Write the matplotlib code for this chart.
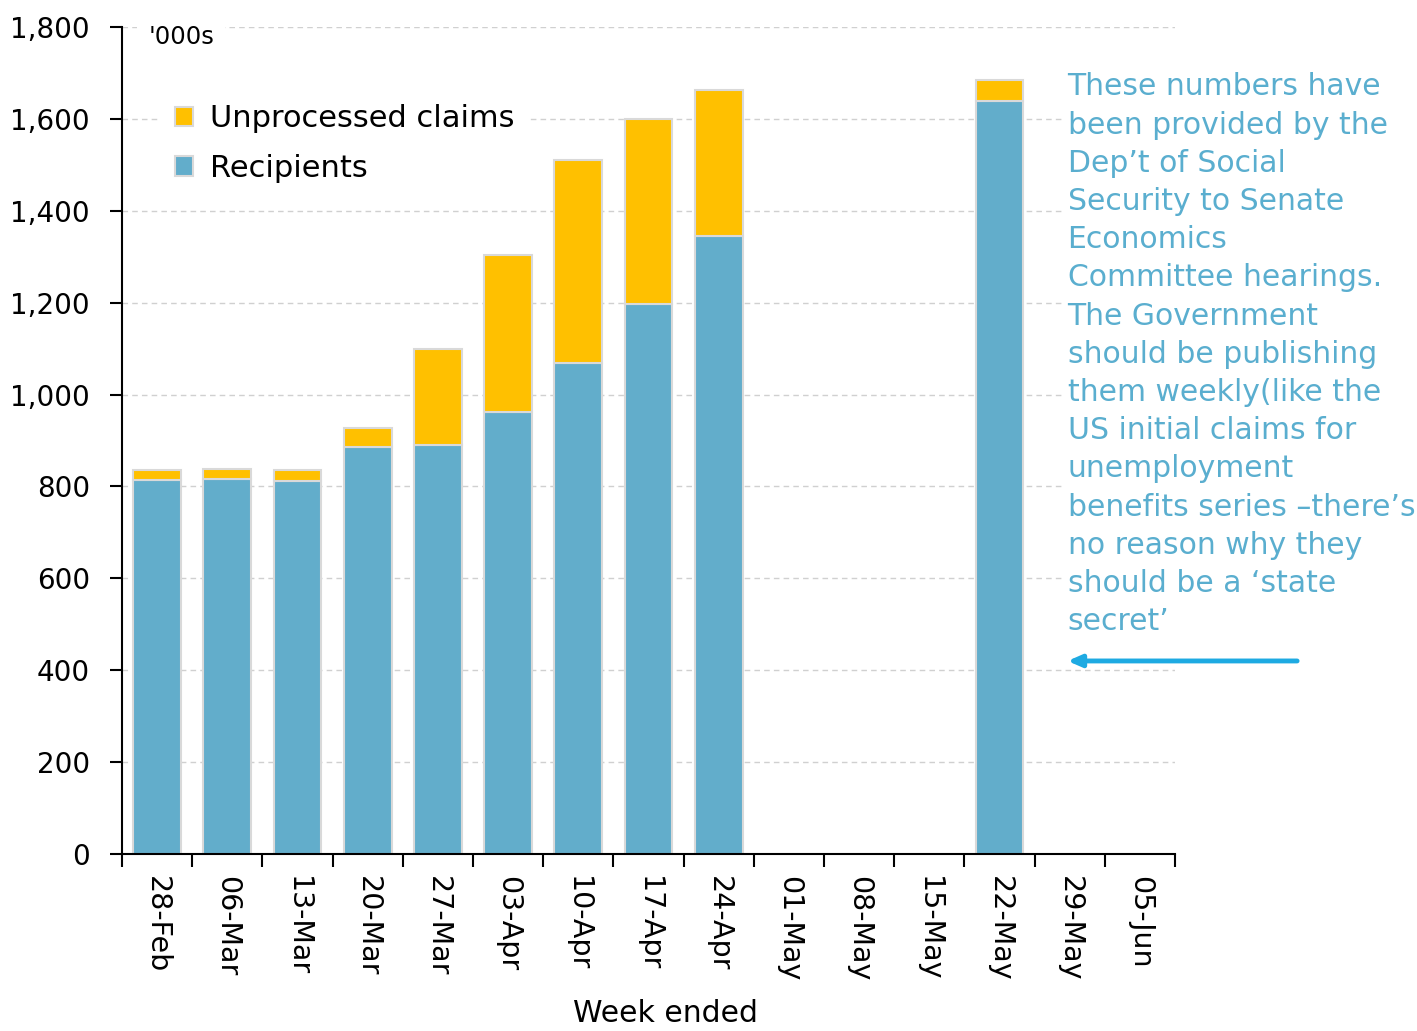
import numpy as np
import matplotlib
matplotlib.use("Agg")
import matplotlib.pyplot as plt

# week-ended labels
weeks = ["28-Feb", "06-Mar", "13-Mar", "20-Mar", "27-Mar", "03-Apr", "10-Apr",
         "17-Apr", "24-Apr", "01-May", "08-May", "15-May", "22-May", "29-May", "05-Jun"]
# '000s; nan = no figure published
recipients = [815, 816, 812, 886, 890, 962, 1069, 1197, 1345,
              np.nan, np.nan, np.nan, 1640, np.nan, np.nan]
unprocessed = [21, 22, 24, 41, 209, 342, 442, 403, 318,
               np.nan, np.nan, np.nan, 45, np.nan, np.nan]

note = ("These numbers have\nbeen provided by the\nDep\u2019t of Social\n"
        "Security to Senate\nEconomics\nCommittee hearings.\nThe Government\n"
        "should be publishing\nthem weekly(like the\nUS initial claims for\n"
        "unemployment\nbenefits series \u2013there\u2019s\nno reason why they\n"
        "should be a \u2018state\nsecret\u2019")

blue = "#62adcb"
yellow = "#ffc000"
edge = "#d9d9d9"

plt.rcParams["font.family"] = ["DejaVu Sans"]

fig = plt.figure(figsize=(14.17, 10.31), dpi=100)
ax = fig.add_axes([0.0861, 0.1717, 0.7431, 0.8021])

x = np.arange(len(weeks))
ax.bar(x, recipients, width=0.68, color=blue, edgecolor=edge, linewidth=1.5,
       label="Recipients", zorder=3)
ax.bar(x, unprocessed, width=0.68, bottom=recipients, color=yellow, edgecolor=edge,
       linewidth=1.5, label="Unprocessed claims", zorder=3)

ax.set_xlim(-0.5, len(weeks) - 0.5)
ax.set_ylim(0, 1800)
ax.set_yticks(np.arange(0, 1801, 200))
ax.set_yticklabels(["{:,}".format(v) for v in range(0, 1801, 200)])
ax.set_xticks(x)
ax.set_xticklabels(weeks, rotation=270, ha="center", va="top")
ax.set_xticks(np.arange(-0.5, len(weeks), 1.0), minor=True)

ax.tick_params(axis="y", direction="out", length=9, width=1.5, pad=14, labelsize=20)
ax.tick_params(axis="x", which="major", length=0, pad=16, labelsize=20.5)
ax.tick_params(axis="x", which="minor", direction="out", length=9, width=1.5)

for s in ["top", "right"]:
    ax.spines[s].set_visible(False)
for s in ["left", "bottom"]:
    ax.spines[s].set_linewidth(1.5)
    ax.spines[s].set_zorder(4)

ax.yaxis.grid(True, linestyle=(0, (4, 3)), color="#d0d0d0", linewidth=1, zorder=0)
ax.set_axisbelow(True)

ax.set_xlabel("Week ended", fontsize=21.5, labelpad=12)
ax.xaxis.set_label_coords(0.516, -0.175)

ax.text(0.025, 0.988, "'000s", transform=ax.transAxes, fontsize=17.5, va="center",
        ha="left", bbox=dict(facecolor="white", edgecolor="none", pad=8), zorder=5)

h, l = ax.get_legend_handles_labels()
leg = ax.legend(h[::-1], l[::-1], loc="upper left", bbox_to_anchor=(0.037, 0.923),
                fontsize=22, frameon=True, facecolor="white", edgecolor="none",
                framealpha=1, fancybox=False, borderaxespad=0, borderpad=0.45,
                handlelength=0.6, handleheight=0.6, handletextpad=0.55,
                labelspacing=0.67)
leg.set_zorder(5)

ax.text(0.898, 0.945, note, transform=ax.transAxes, fontsize=21.5, color="#5aaecf",
        va="top", ha="left", linespacing=1.40,
        bbox=dict(facecolor="white", edgecolor="none", pad=2), zorder=5)

ax.annotate("", xy=(0.898, 0.2334), xytext=(1.116, 0.2334), xycoords="axes fraction",
            textcoords="axes fraction", annotation_clip=False,
            arrowprops=dict(arrowstyle="-|>,head_length=0.8,head_width=0.35",
                            color="#1eaae2", lw=3.5, shrinkA=0, shrinkB=0))

fig.savefig("out.png", dpi=100)
